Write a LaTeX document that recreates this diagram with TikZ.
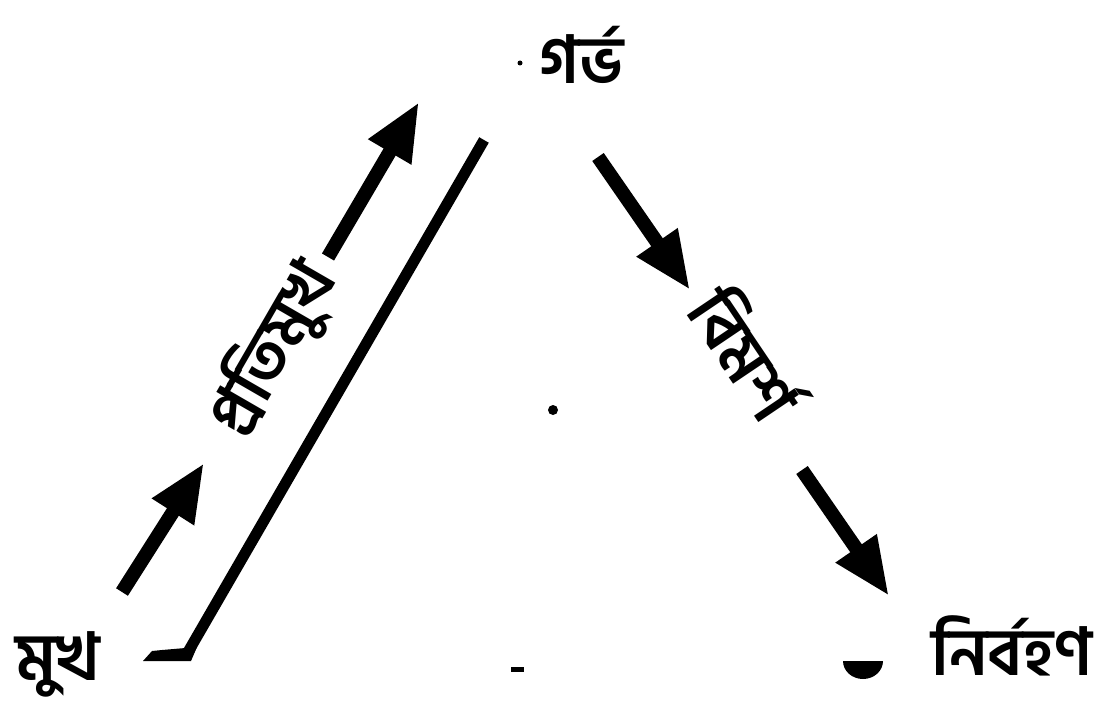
\documentclass[tikz,border=0pt]{standalone}
\usepackage{fontspec}
\newfontfamily\bn[Script=Bengali]{Hind Siliguri}
\usetikzlibrary{arrows.meta}
\begin{document}
\begin{tikzpicture}[x=1pt,y=-1pt,
  lbl/.style={font=\bn\bfseries\fontsize{66}{72}\selectfont, inner sep=0pt},
  arr/.style={line width=14pt, -{Triangle[length=58pt,width=46pt]}},
  bar/.style={line width=11pt}]
\useasboundingbox[fill=white] (0,0) rectangle (1102,706);
% labels
\node[lbl] (garbha) at (582,55) {গর্ভ};
\node[lbl] (mukha) at (58,664) {মুখ};
\node[lbl] (nirv) at (1012,646) {নির্বহণ};
\node[lbl, rotate=60] (prati) at (273,349) {প্রতিমুখ};
\node[lbl, rotate=-56] (vimarsha) at (748,352) {বিমর্শ};
% left arrows
\coordinate (a1s) at (122,592); \coordinate (a1e) at (204,463);
\coordinate (a2s) at (328,257); \coordinate (a2e) at (419,102);
\draw[arr] (a1s) -- (a1e);
\draw[arr] (a2s) -- (a2e);
% long line with foot
\coordinate (ls) at (188,652); \coordinate (le) at (484,140);
\draw[bar] (ls) -- (le);
\fill (143,661) -- (191,661) -- (197,647) -- (162,650) -- (152,651) -- cycle;
% right arrows
\coordinate (b1s) at (598,157); \coordinate (b1e) at (690,290);
\coordinate (b2s) at (802,470); \coordinate (b2e) at (889,596);
\draw[arr] (b1s) -- (b1e);
\draw[arr] (b2s) -- (b2e);
% small marks
\fill (520,63) circle (2.5pt);
\fill (553,410) circle (5pt);
\fill (511,667) rectangle (524,672);
\fill (843,661) -- (883,661) arc (0:-180:20pt and 18pt) -- cycle;
\end{tikzpicture}
\end{document}
